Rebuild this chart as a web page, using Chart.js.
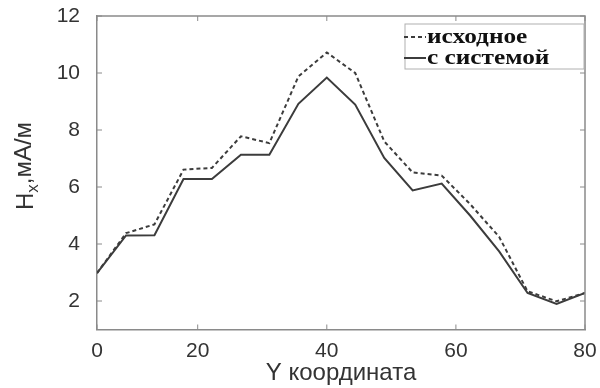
<!DOCTYPE html>
<html>
<head>
<meta charset="utf-8">
<script src="https://cdn.jsdelivr.net/npm/chart.js@4/dist/chart.umd.min.js"></script>
<style>
    html, body { margin: 0; padding: 0; background: #fff; }
    #wrap { width: 600px; height: 388px; }
</style>
</head>
<body>
<div id="wrap"><canvas id="chart" width="600" height="388"></canvas></div>
<script>
// values
let xValues = [4.4, 8.9, 13.3, 17.8, 22.2, 26.7, 31.1, 35.6, 40, 44.4, 48.9, 53.3, 57.8, 62.2, 66.7, 71.1, 75.6, 80];
let original = [2.98, 4.38, 4.69, 6.61, 6.67, 7.78, 7.54, 9.88, 10.72, 10.0, 7.6, 6.51, 6.40, 5.4, 4.25, 2.34, 1.99, 2.28];
let withSystem = [2.98, 4.30, 4.31, 6.28, 6.28, 7.13, 7.13, 8.92, 9.84, 8.89, 7.02, 5.88, 6.12, 5.0, 3.74, 2.28, 1.90, 2.28];
let seriesNames = ['исходное', 'с системой'];
let xTickValues = [4.4, 20, 40, 60, 80];
let xTickLabels = ['0', '20', '40', '60', '80'];
let yTickValues = [2, 4, 6, 8, 10, 12];
let xTitle = 'Y координата';

const axisColor = '#8a8a8a';
const textColor = '#333';
const lineColor = '#3c3c3c';
const sans = '"Liberation Sans", Arial, sans-serif';

function toPoints(vals) {
    return vals.map((v, i) => ({ x: xValues[i], y: v }));
}

// MATLAB style box, inward ticks, y title with subscript, legend
const decor = {
    id: 'decor',
    afterDraw(c) {
        const ctx = c.ctx;
        const a = c.chartArea;
        const xs = c.scales.x, ys = c.scales.y;
        ctx.save();
        ctx.strokeStyle = axisColor;
        ctx.lineWidth = 1.5;
        ctx.beginPath();
        ctx.moveTo(a.left, a.top);
        ctx.lineTo(a.right, a.top);
        ctx.lineTo(a.right, a.bottom);
        ctx.stroke();
        ctx.lineWidth = 1;
        ctx.beginPath();
        xTickValues.forEach(v => {
            const p = xs.getPixelForValue(v);
            ctx.moveTo(p, a.bottom); ctx.lineTo(p, a.bottom - 5);
            ctx.moveTo(p, a.top); ctx.lineTo(p, a.top + 5);
        });
        yTickValues.forEach(v => {
            const p = ys.getPixelForValue(v);
            ctx.moveTo(a.left, p); ctx.lineTo(a.left + 5, p);
            ctx.moveTo(a.right, p); ctx.lineTo(a.right - 5, p);
        });
        ctx.stroke();

        // y title
        ctx.fillStyle = textColor;
        ctx.translate(26, 166);
        ctx.rotate(-Math.PI / 2);
        ctx.textBaseline = 'middle';
        ctx.textAlign = 'left';
        const big = '24px ' + sans;
        const small = '17px ' + sans;
        ctx.font = big;
        const wH = ctx.measureText('H').width;
        const wRest = ctx.measureText(',мА/м').width;
        ctx.font = small;
        const wX = ctx.measureText('x').width;
        let x0 = -(wH + wX + wRest) / 2;
        ctx.font = big;
        ctx.fillText('H', x0, 0);
        ctx.font = small;
        ctx.fillText('x', x0 + wH, 7);
        ctx.font = big;
        ctx.fillText(',мА/м', x0 + wH + wX, -2);
        ctx.restore();

        // legend
        ctx.save();
        const lx = 405, ly = 24, lw = 179, lh = 45;
        ctx.fillStyle = '#fff';
        ctx.fillRect(lx, ly, lw, lh);
        ctx.strokeStyle = '#b0b0b0';
        ctx.lineWidth = 1;
        ctx.strokeRect(lx, ly, lw, lh);
        ctx.font = 'bold 22px "Liberation Serif", "Times New Roman", serif';
        ctx.textBaseline = 'middle';
        ctx.fillStyle = '#111';
        c.data.datasets.forEach((ds, i) => {
            const yy = ly + 13 + i * 21;
            ctx.strokeStyle = ds.borderColor;
            ctx.lineWidth = ds.borderWidth;
            ctx.setLineDash(ds.borderDash || []);
            ctx.beginPath();
            ctx.moveTo(lx - 1, yy);
            ctx.lineTo(lx + 21, yy);
            ctx.stroke();
            ctx.setLineDash([]);
            ctx.save();
            ctx.translate(lx + 22, yy);
            ctx.scale(1.15, 1);
            ctx.fillText(ds.label, 0, 0);
            ctx.restore();
        });
        ctx.restore();
    }
};

new Chart(document.getElementById('chart'), {
    type: 'line',
    data: {
        datasets: [
            {
                label: seriesNames[0],
                data: toPoints(original),
                borderColor: lineColor,
                borderWidth: 2,
                borderDash: [4, 3],
                pointRadius: 0,
                tension: 0
            },
            {
                label: seriesNames[1],
                data: toPoints(withSystem),
                borderColor: lineColor,
                borderWidth: 2,
                pointRadius: 0,
                tension: 0
            }
        ]
    },
    options: {
        responsive: false,
        animation: false,
        layout: { padding: { top: 16, right: 15, left: 0, bottom: 0 } },
        plugins: { legend: { display: false }, tooltip: { enabled: false } },
        scales: {
            x: {
                type: 'linear',
                min: 4.4,
                max: 80,
                afterBuildTicks: s => { s.ticks = xTickValues.map(v => ({ value: v })); },
                afterFit: s => { s.height = 58.5; s.paddingLeft = 0; s.paddingRight = 0; },
                grid: { display: false },
                border: { color: axisColor, width: 1.5 },
                ticks: {
                    padding: 1,
                    color: textColor,
                    font: { family: sans, size: 21 },
                    maxRotation: 0,
                    callback: (v, i) => xTickLabels[i]
                },
                title: {
                    display: true,
                    text: xTitle,
                    color: textColor,
                    font: { family: sans, size: 24 },
                    padding: { top: 0, bottom: 0 }
                }
            },
            y: {
                min: 1,
                max: 12,
                afterBuildTicks: s => { s.ticks = yTickValues.map(v => ({ value: v })); },
                afterFit: s => { s.width = 97; s.paddingTop = 0; s.paddingBottom = 0; },
                grid: { display: false },
                border: { color: axisColor, width: 1.5 },
                ticks: {
                    padding: 9,
                    color: textColor,
                    font: { family: sans, size: 21 }
                }
            }
        }
    },
    plugins: [decor]
});
</script>
</body>
</html>
